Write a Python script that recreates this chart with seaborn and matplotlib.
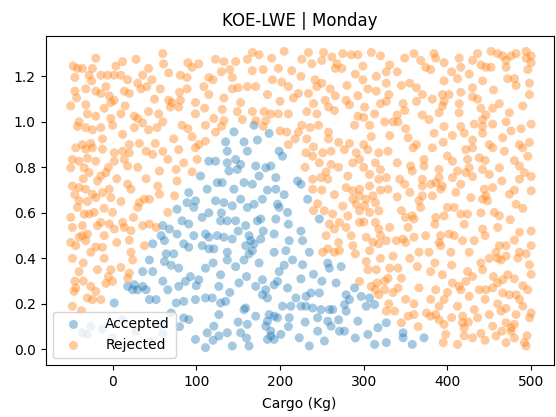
import matplotlib
matplotlib.use("Agg")
import matplotlib.pyplot as plt
import seaborn as sns
import pandas as pd

title = "KOE-LWE | Monday"
x_label = "Cargo (Kg)"
labels = ["Accepted", "Rejected"]

accepted_points = [
    (169,0.985),(145,0.956),(187,0.949),(135,0.912),(157,0.912),(173,0.92),
    (115,0.827),(105,0.762),(113,0.704),(91,0.689),(99,0.653),(89,0.645),(97,0.624),(77,0.616),
    (83,0.565),(91,0.551),(107,0.58),(111,0.507),(115,0.493),(97,0.50),(60,0.544),(68,0.529),
    (58,0.50),(62,0.478),(48,0.464),(77,0.507),(85,0.464),(91,0.449),(107,0.456),(115,0.442),
    (64,0.42),(73,0.42),
    (137,0.871),(161,0.871),(199,0.871),(203,0.849),(123,0.827),(137,0.82),(147,0.835),(153,0.813),
    (171,0.806),(183,0.798),(189,0.806),(139,0.784),(149,0.791),(125,0.733),(131,0.733),(145,0.704),
    (157,0.733),(167,0.726),(175,0.762),(195,0.755),(195,0.704),(221,0.74),(225,0.726),(233,0.66),
    (123,0.653),(133,0.645),(143,0.631),(153,0.66),(161,0.624),(169,0.638),(179,0.66),(197,0.638),
    (199,0.624),(209,0.602),(129,0.565),(137,0.565),(147,0.565),(159,0.544),(173,0.565),(177,0.573),
    (195,0.573),(247,0.573),(125,0.50),(133,0.493),(143,0.485),(163,0.50),(165,0.478),(169,0.464),
    (159,0.456),(177,0.485),(193,0.507),(211,0.478),(227,0.478),(121,0.442),(137,0.427),(163,0.42),
    (167,0.434),(193,0.427),(207,0.434),(235,0.427),
    (44,0.393),(62,0.386),(36,0.342),(48,0.342),(79,0.357),(93,0.32),(111,0.357),(87,0.299),
    (103,0.306),(18,0.277),(26,0.284),(30,0.262),(36,0.277),(24,0.262),(40,0.262),(66,0.262),
    (79,0.277),(2,0.204),(44,0.219),(52,0.219),(76,0.204),(85,0.211),(99,0.219),(111,0.226),
    (85,0.138),(91,0.131),(99,0.044),(111,0.008),(113,0.073),
    (-36,0.073),(-26,0.102),(-30,0.066),(-12,0.09),(0,0.05),(12,0.13),(28,0.08),(45,0.035),
    (58,0.11),(70,0.16),
    (137,0.393),(157,0.393),(147,0.364),(215,0.393),(227,0.372),(257,0.379),(259,0.357),(273,0.364),
    (199,0.342),(129,0.328),(127,0.277),(151,0.292),(171,0.277),(179,0.306),(183,0.262),(193,0.284),
    (197,0.299),(179,0.24),(185,0.226),(209,0.27),(219,0.226),(231,0.233),(237,0.248),(247,0.248),
    (267,0.292),(279,0.24),(283,0.219),(289,0.27),(297,0.233),(307,0.226),(119,0.226),(135,0.211),
    (129,0.204),(159,0.182),(157,0.175),(171,0.146),(187,0.153),(193,0.146),(185,0.124),(197,0.139),
    (203,0.19),(213,0.19),(225,0.19),(231,0.19),(239,0.182),(249,0.175),(259,0.175),(263,0.175),
    (277,0.197),(279,0.168),(303,0.19),(313,0.197),(127,0.153),(121,0.102),(127,0.059),(137,0.073),
    (153,0.073),(161,0.11),(183,0.102),(189,0.08),(189,0.059),(193,0.044),(201,0.066),(185,0.044),
    (211,0.139),(245,0.139),(257,0.124),(261,0.102),(271,0.08),(277,0.08),(293,0.124),(317,0.095),
    (305,0.066),(313,0.022),(223,0.051),(235,0.015),(253,0.037),(143,0.015),(163,0.015),
    (327,0.117),(327,0.03),(347,0.073),(347,0.051),(358,0.022),(372,0.051),
    (115,0.60),(130,0.60),(185,0.70),(205,0.68),(210,0.55),(225,0.52),(180,0.52),(150,0.52),
    (120,0.38),(175,0.38),(205,0.37),(240,0.33),(250,0.30),(225,0.31),(160,0.32),(100,0.28),
    (60,0.30),(70,0.37),(140,0.25),(150,0.12),(210,0.10),(230,0.12),(270,0.13),(290,0.05),
    (245,0.08),(160,0.05),(120,0.04),(80,0.10),(60,0.07),
]

rejected_points = [
    (-47,1.245),(-42,1.235),(-36,1.235),(-24,1.235),(-45,1.195),(-28,1.205),(-14,1.205),(-6,1.205),
    (2,1.205),(10,1.205),(4,1.245),(12,1.265),(28,1.275),(18,1.185),(36,1.205),(43,1.235),(47,1.185),
    (61,1.255),(67,1.215),(81,1.205),(89,1.195),(103,1.255),(115,1.195),
    (-45,1.135),(-43,1.105),(-32,1.145),(-20,1.135),(-14,1.125),(-4,1.115),(-8,1.155),(2,1.095),
    (-2,1.085),(14,1.135),(20,1.125),(34,1.145),(41,1.155),(57,1.145),(67,1.095),(71,1.085),
    (81,1.095),(89,1.145),(99,1.085),(109,1.155),
    (-32,1.075),(-30,1.035),(-20,1.025),(-2,1.015),(10,1.035),(26,1.025),(30,1.015),(43,1.045),
    (55,1.035),(69,1.065),(79,1.065),(83,0.985),(99,1.035),(111,0.985),
    (-42,0.98),(-32,0.975),(-24,0.965),(-14,0.975),(0,0.985),(12,0.945),(26,0.975),(36,0.995),
    (43,0.965),(53,0.975),(73,0.925),(95,0.935),(111,0.915),
    (-36,0.90),(-26,0.905),(-12,0.925),(20,0.90),(32,0.905),(51,0.905),(103,0.90),
    (123,1.275),(133,1.265),(147,1.265),(161,1.275),(167,1.305),(175,1.295),(167,1.225),(143,1.195),
    (120,1.185),(133,1.105),(143,1.145),(161,1.155),(171,1.155),(191,1.185),(202,1.175),(198,1.235),
    (214,1.225),(210,1.155),(216,1.105),(222,1.125),(226,1.275),(234,1.305),(238,1.255),(242,1.185),
    (244,1.155),(234,1.125),(252,1.305),(262,1.285),(268,1.255),(274,1.235),(266,1.235),(260,1.145),
    (266,1.115),(254,1.095),(258,1.065),(279,1.095),(285,1.295),(293,1.295),(299,1.245),(309,1.305),
    (299,1.185),(305,1.145),(315,1.135),(293,1.115),(283,1.075),(301,1.065),(313,1.035),
    (131,1.055),(153,1.085),(149,1.045),(167,1.045),(181,1.045),(189,1.035),(198,1.035),(210,1.035),
    (232,1.045),(244,1.035),(121,1.015),(133,1.005),(171,1.005),(183,1.005),(226,0.985),(236,0.975),
    (246,0.985),(208,0.955),(222,0.955),(218,0.925),(232,0.925),(258,0.955),(258,0.925),(289,0.985),
    (293,1.025),(309,0.935),(307,0.985),(283,0.905),(123,0.955),
    (349,1.28),(331,1.25),(327,1.22),(368,1.27),(374,1.24),(384,1.30),(386,1.28),(380,1.23),
    (396,1.26),(414,1.28),(416,1.24),(426,1.21),(436,1.30),(440,1.25),(446,1.24),(452,1.24),
    (452,1.31),(460,1.30),(466,1.29),(476,1.29),(482,1.30),(494,1.31),(494,1.28),(470,1.24),
    (496,1.23),(327,1.17),(345,1.16),(355,1.17),(363,1.15),(396,1.18),(412,1.19),(430,1.15),
    (442,1.18),(472,1.19),(480,1.19),(482,1.16),(498,1.17),(327,1.09),(347,1.08),(349,1.05),
    (363,1.09),(382,1.10),(394,1.12),(396,1.09),(394,1.07),(402,1.12),(416,1.13),(414,1.08),
    (414,1.04),(430,1.11),(436,1.10),(454,1.06),(462,1.08),(474,1.04),(498,1.12),(370,1.03),
    (378,1.01),(325,1.00),(335,1.00),(341,1.00),(396,0.98),(416,0.98),(432,0.99),(442,1.01),
    (446,1.03),(442,0.98),(454,0.99),(476,0.96),(488,0.97),(500,0.99),(331,0.94),(353,0.93),
    (363,0.90),(384,0.95),(406,0.94),(442,0.95),(450,0.90),(466,0.93),(486,0.90),(498,0.91),
    (-44,0.886),(-32,0.88),(-24,0.886),(-12,0.88),(2,0.864),(12,0.871),(20,0.864),(40,0.871),
    (48,0.857),(79,0.878),(99,0.886),(-48,0.835),(-40,0.827),(-34,0.798),(-20,0.827),(2,0.827),
    (14,0.835),(18,0.806),(56,0.784),(66,0.835),(76,0.791),(101,0.835),(-50,0.798),(-28,0.777),
    (-14,0.762),(-8,0.777),(-18,0.74),(-24,0.682),(-20,0.667),(-32,0.704),(-48,0.718),(-40,0.711),
    (-4,0.704),(-2,0.667),(-12,0.689),(18,0.726),(22,0.704),(32,0.645),(38,0.66),(44,0.66),
    (30,0.624),(54,0.718),(56,0.682),(77,0.74),(74,0.675),(66,0.602),(-40,0.653),(-42,0.624),
    (-28,0.595),(-34,0.595),(-22,0.602),(0,0.602),(-36,0.544),(-48,0.536),(-18,0.544),(-14,0.558),
    (-4,0.551),(2,0.529),(12,0.558),(14,0.536),(22,0.522),(36,0.544),(44,0.551),(52,0.536),
    (38,0.456),(-40,0.493),(-36,0.50),(-32,0.478),(-30,0.507),(-44,0.456),(-26,0.427),(-12,0.449),
    (22,0.427),
    (231,0.864),(239,0.849),(251,0.864),(261,0.871),(277,0.878),(291,0.864),(305,0.878),(318,0.864),
    (247,0.82),(261,0.813),(287,0.82),(295,0.835),(314,0.82),(239,0.748),(249,0.755),(257,0.748),
    (281,0.762),(307,0.769),(318,0.748),(239,0.704),(279,0.711),(287,0.697),(295,0.704),(307,0.718),
    (295,0.675),(303,0.66),(311,0.675),(287,0.66),(291,0.638),(301,0.631),(314,0.645),(318,0.609),
    (295,0.609),(307,0.602),(253,0.609),(263,0.595),(281,0.587),(259,0.551),(271,0.558),(265,0.529),
    (279,0.536),(295,0.558),(314,0.558),(318,0.529),(303,0.493),(311,0.471),(318,0.464),(287,0.456),
    (257,0.442),(265,0.427),(271,0.434),(251,0.427),(307,0.434),
    (329,0.871),(359,0.886),(382,0.886),(422,0.878),(430,0.886),(454,0.886),(468,0.871),(490,0.886),
    (372,0.835),(406,0.827),(424,0.835),(438,0.842),(462,0.798),(496,0.849),(356,0.806),(358,0.784),
    (372,0.806),(390,0.791),(390,0.755),(406,0.755),(412,0.784),(422,0.777),(426,0.798),(442,0.791),
    (450,0.769),(486,0.806),(492,0.777),(486,0.748),(327,0.755),(343,0.748),(349,0.726),(370,0.748),
    (380,0.726),(386,0.733),(392,0.704),(394,0.718),(370,0.718),(329,0.704),(416,0.726),(444,0.704),
    (454,0.711),(446,0.675),(442,0.66),(448,0.653),(428,0.667),(474,0.682),(500,0.697),(370,0.675),
    (366,0.653),(368,0.624),(382,0.675),(400,0.624),(408,0.624),(416,0.595),(424,0.595),(456,0.602),
    (462,0.587),(482,0.638),(358,0.587),(350,0.58),(360,0.573),(386,0.58),(396,0.587),(353,0.536),
    (331,0.536),(374,0.50),(392,0.50),(402,0.507),(408,0.50),(418,0.478),(432,0.478),(442,0.529),
    (460,0.536),(486,0.515),(327,0.478),(339,0.478),(347,0.485),(360,0.493),(366,0.427),(378,0.427),
    (392,0.456),(404,0.427),(426,0.427),(462,0.456),(470,0.456),(458,0.427),(486,0.427),(494,0.42),
    (500,0.456),
    (-40,0.342),(-44,0.27),(-46,0.255),(-26,0.277),(-20,0.255),(-24,0.219),(-14,0.219),(-18,0.35),
    (-2,0.35),(0,0.299),(20,0.335),(18,0.313),(24,0.393),(-30,0.226),(-37,0.17),(-48,0.19),
    (303,0.386),(305,0.35),(295,0.299),(309,0.277),(314,0.262),(318,0.24),(316,0.292),
    (331,0.357),(341,0.357),(329,0.313),(345,0.313),(325,0.262),(341,0.27),(364,0.364),(380,0.342),
    (394,0.328),(366,0.27),(386,0.262),(406,0.292),(414,0.277),(416,0.262),(422,0.299),(424,0.342),
    (426,0.233),(438,0.262),(442,0.35),(446,0.262),(454,0.27),(460,0.292),(466,0.306),(472,0.328),
    (466,0.248),(474,0.24),(482,0.24),(486,0.219),(496,0.262),(498,0.372),(484,0.401),(464,0.393),
    (327,0.168),(337,0.168),(353,0.146),(360,0.153),(380,0.146),(386,0.153),(396,0.219),(390,0.19),
    (396,0.11),(412,0.19),(418,0.146),(418,0.117),(420,0.095),(432,0.175),(436,0.139),(450,0.153),
    (454,0.102),(464,0.168),(470,0.117),(476,0.095),(476,0.08),(482,0.153),(490,0.19),(498,0.139),
    (458,0.059),(430,0.051),(412,0.022),(492,0.03),(494,0.015),(345,0.117),(398,0.066),
    (-48,0.40),(-35,0.38),(-10,0.40),(-5,0.32),(10,0.36),(-45,0.30),(-35,0.30),(-8,0.29),
    (-20,1.28),(60,1.30),(90,1.26),(140,1.23),(190,1.28),(205,1.31),(250,1.27),(275,1.30),
    (320,1.29),(340,1.22),(360,1.30),(405,1.22),(430,1.27),(470,1.27),(500,1.26),(500,1.29),
    (330,1.12),(370,1.12),(455,1.14),(490,1.07),(440,1.06),(390,1.04),(340,1.03),(470,1.00),
    (420,0.95),(350,0.97),(395,0.91),(430,0.92),
    (340,0.82),(400,0.85),(445,0.83),(480,0.83),(500,0.76),(465,0.74),(430,0.76),(340,0.67),
    (355,0.69),(410,0.69),(480,0.70),(490,0.62),(440,0.60),(345,0.61),(385,0.55),(420,0.55),
    (475,0.57),(500,0.52),(445,0.50),(350,0.47),(390,0.47),(480,0.48),
    (450,0.40),(460,0.40),(470,0.41),(440,0.38),(405,0.37),(385,0.38),(355,0.40),(335,0.41),
    (500,0.33),(480,0.31),(490,0.28),(455,0.32),(430,0.32),(400,0.25),(380,0.22),(350,0.22),
    (335,0.25),(360,0.20),(445,0.22),(460,0.20),(470,0.18),(500,0.16),(480,0.11),(465,0.08),
    (440,0.07),(425,0.12),(405,0.14),(390,0.13),(375,0.16),(365,0.10),(445,0.04),(470,0.03),
    (495,0.06),(480,0.05),(420,0.06),(395,0.03),
    (-50,0.58),(-45,0.68),(-30,0.65),(-10,0.62),(10,0.65),(25,0.58),(-10,0.50),(5,0.47),
    (20,0.48),(-20,0.45),(-50,0.47),(-5,0.80),(30,0.80),(40,0.75),(60,0.87),(85,0.82),
    (95,0.78),(-30,0.84),(5,0.75),(-35,0.75),
    (-40,1.00),(-10,1.06),(15,1.07),(50,1.10),(80,1.13),(95,1.24),(110,1.06),(-50,1.07),
    (-25,1.18),(30,1.17),(60,1.00),(90,0.97),
    (115,1.12),(130,1.22),(150,1.15),(180,1.23),(185,1.12),(200,1.09),(225,1.20),(250,1.17),
    (280,1.16),(290,1.21),(315,1.20),(320,1.08),(300,1.02),(265,1.05),(240,1.08),(180,0.98),
    (155,1.01),(130,0.98),(200,0.96),(270,0.91),(300,0.90),(240,0.89),(210,0.90),
    (230,0.80),(255,0.78),(270,0.80),(300,0.80),(320,0.79),(250,0.70),(265,0.68),(275,0.63),
    (320,0.70),(245,0.64),(240,0.61),(300,0.56),(285,0.50),(255,0.50),(270,0.47),(290,0.42),
    (320,0.50),(320,0.40),(315,0.35),(325,0.30),(330,0.20),
]

acc_cargo = [p[0] for p in accepted_points]
acc_value = [p[1] for p in accepted_points]
rej_cargo = [p[0] for p in rejected_points]
rej_value = [p[1] for p in rejected_points]

df = pd.DataFrame({
    "Cargo (Kg)": acc_cargo + rej_cargo,
    "value": acc_value + rej_value,
    "status": [labels[0]] * len(acc_cargo) + [labels[1]] * len(rej_cargo),
})

fig = plt.figure(figsize=(5.56, 4.17), dpi=100)
ax = fig.add_axes([0.082, 0.125, 0.914, 0.789])
sns.scatterplot(data=df, x="Cargo (Kg)", y="value", hue="status", hue_order=labels,
                palette=["#1f77b4", "#ff7f0e"], alpha=0.4, s=42, linewidth=0, ax=ax)
ax.set_xlim(-80, 527)
ax.set_ylim(-0.068, 1.378)
ax.set_xticks([0, 100, 200, 300, 400, 500])
ax.set_yticks([0.0, 0.2, 0.4, 0.6, 0.8, 1.0, 1.2])
ax.set_xlabel(x_label, labelpad=6)
ax.set_ylabel("")
ax.set_title(title, pad=7)
handles, labs = ax.get_legend_handles_labels()
ax.legend(handles, labs, loc="lower left", handlelength=2.2, handletextpad=1.2)
fig.savefig("out.png", dpi=100)
